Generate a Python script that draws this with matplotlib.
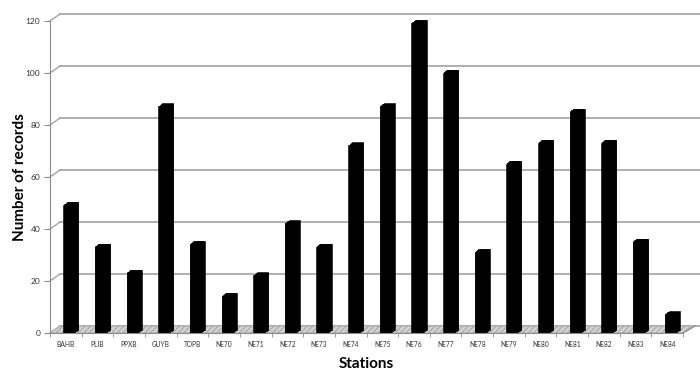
import matplotlib.pyplot as plt
import matplotlib.transforms as mtransforms
from matplotlib.patches import Polygon
import numpy as np

# data
stations = ["BAHB", "PLIB", "PPXB", "GUYB", "TOPB", "NE70", "NE71", "NE72", "NE73", "NE74",
            "NE75", "NE76", "NE77", "NE78", "NE79", "NE80", "NE81", "NE82", "NE83", "NE84"]
records = [49, 33, 23, 87, 34, 14, 22, 42, 33, 72, 87, 119, 100, 31, 65, 73, 85, 73, 35, 7]
y_ticks = [0, 20, 40, 60, 80, 100, 120]

plt.rcParams['font.family'] = ['Lato', 'DejaVu Sans']
plt.rcParams['hatch.linewidth'] = 0.8

fig = plt.figure(figsize=(7, 3.71), dpi=100)
ax = fig.add_axes([50 / 700, 38 / 371, 633 / 700, 312 / 371])
x = np.arange(len(stations))
ax.set_xlim(-0.5, len(stations) - 0.5)
ax.set_ylim(0, 120)

def shift(dx, dy):
    # pixel offset (dpi 100)
    return mtransforms.ScaledTranslation(dx / 100, dy / 100, fig.dpi_scale_trans)

wall_dx, wall_dy = 10, 7
grid_col = '#9a9a9a'

# back wall gridlines + the little diagonal connectors at the y axis
for v in y_ticks:
    ax.plot([-0.5, len(stations) - 0.5 + 0.45], [v, v], color=grid_col, lw=1.1,
            transform=ax.transData + shift(wall_dx, wall_dy), clip_on=False, zorder=1)
fig.canvas.draw()
for v in y_ticks:
    px, py = ax.transData.transform((-0.5, v))
    ax.add_line(plt.Line2D([px, px + wall_dx], [py, py + wall_dy], color=grid_col, lw=0.9,
                           transform=mtransforms.IdentityTransform(), clip_on=False))

# floor
fl = ax.transData.transform((-0.5, 0))
fr = ax.transData.transform((len(stations) - 0.5, 0))
floor = Polygon([fl, fr, (fr[0] + wall_dx + 2, fr[1] + wall_dy), (fl[0] + wall_dx, fl[1] + wall_dy)],
                closed=True, facecolor='#d2d2d2', edgecolor='#a8a8a8', lw=0.6, hatch='//////',
                transform=mtransforms.IdentityTransform(), clip_on=False, zorder=2)
ax.add_patch(floor)
ax.add_line(plt.Line2D([fr[0], fr[0] + wall_dx + 2], [fr[1], fr[1] + wall_dy], color='#8c8c8c',
                       lw=0.9, transform=mtransforms.IdentityTransform(), clip_on=False, zorder=3))

# bars: sweep the front face backwards to get the 3d prism look
steps = 8
for k in range(steps + 1):
    t = k / steps
    ax.bar(x, records, width=0.35, color='black', edgecolor='black', lw=0.4,
           transform=ax.transData + shift(3 + 4 * t, 0.5 + 3 * t), clip_on=False, zorder=4)

# axes
for s in ['top', 'right']:
    ax.spines[s].set_visible(False)
ax.spines['left'].set_color('#8c8c8c')
ax.spines['bottom'].set_color('#8c8c8c')
ax.spines['left'].set_zorder(5)
ax.spines['bottom'].set_zorder(5)

ax.set_yticks(y_ticks)
ax.tick_params(axis='y', length=4, color='#8c8c8c', labelsize=6, labelcolor='#333333', pad=3)
ax.set_xticks(x)
ax.set_xticklabels(stations)
ax.set_xticks(np.arange(-0.5, len(stations)), minor=True)
ax.tick_params(axis='x', which='major', length=0, labelsize=4.8, labelcolor='#333333', pad=6)
ax.tick_params(axis='x', which='minor', length=3, color='#8c8c8c')

ax.set_xlabel('Stations', fontsize=11, fontweight='bold', labelpad=6)
ax.set_ylabel('Number of records', fontsize=11, fontweight='bold', labelpad=-1)

fig.savefig('out.png', dpi=100)
